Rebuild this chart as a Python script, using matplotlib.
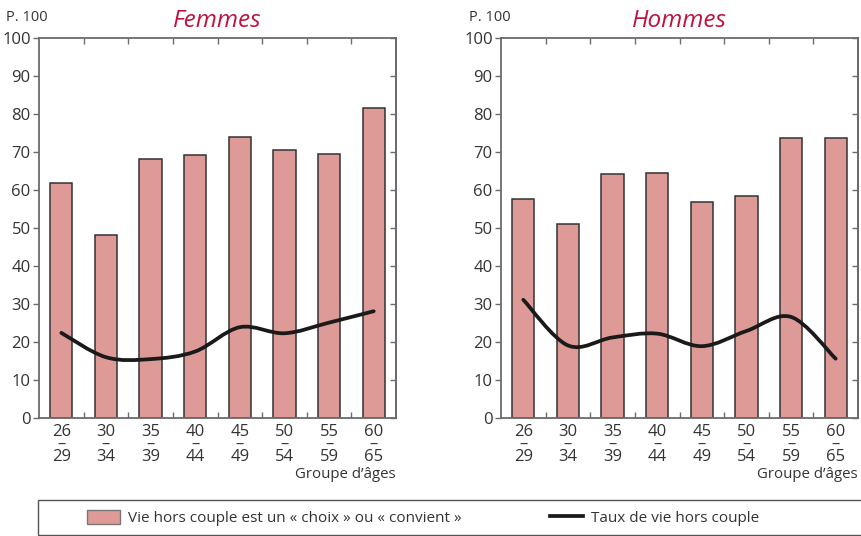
import numpy as np
import matplotlib
matplotlib.use("Agg")
import matplotlib.pyplot as plt
from matplotlib.path import Path
from matplotlib.patches import PathPatch, Patch, Rectangle
from matplotlib.lines import Line2D

# --------------------------------------------------------------------------
# data (in %)
# --------------------------------------------------------------------------
AGE_LABELS = ["26\n–\n29", "30\n–\n34", "35\n–\n39", "40\n–\n44",
              "45\n–\n49", "50\n–\n54", "55\n–\n59", "60\n–\n65"]
FEMMES_CHOIX = [61.8, 48.2, 68.1, 69.2, 73.9, 70.4, 69.6, 81.6]
FEMMES_TAUX = [22.4, 16.0, 15.5, 17.5, 23.9, 22.3, 25.1, 28.1]
HOMMES_CHOIX = [57.6, 51.0, 64.1, 64.6, 56.9, 58.4, 73.8, 73.8]
HOMMES_TAUX = [31.1, 19.1, 21.2, 22.2, 18.9, 22.9, 26.6, 15.6]
Y_TICKS = list(range(0, 101, 10))

LEG_BAR = "Vie hors couple est un « choix » ou « convient »"
LEG_LINE = "Taux de vie hors couple"

# styling -------------------------------------------------------------------
BAR_FILL, BAR_EDGE = "#dd9a97", "#333333"
LINE_C = "#1a1a1a"
SPINE_C = "#6b6b6b"
TXT = "#333333"
TITLE_C = "#c0123f"

plt.rcParams["font.family"] = ["Open Sans", "DejaVu Sans"]
plt.rcParams["text.color"] = TXT


def smooth_path(xs, ys):
    """Catmull-Rom curve through the points, as cubic bezier segments."""
    pts = np.column_stack([xs, ys]).astype(float)
    ext = np.vstack([pts[0], pts, pts[-1]])
    verts, codes = [pts[0]], [Path.MOVETO]
    for i in range(len(pts) - 1):
        p0, p1, p2, p3 = ext[i], ext[i + 1], ext[i + 2], ext[i + 3]
        verts += [p1 + (p2 - p0) / 6, p2 - (p3 - p1) / 6, p2]
        codes += [Path.CURVE4] * 3
    return Path(verts, codes)


def draw_panel(ax, choix, taux, title, p100_x):
    x = np.arange(len(AGE_LABELS))
    ax.bar(x, choix, width=0.5, color=BAR_FILL, edgecolor=BAR_EDGE,
           linewidth=1.1, zorder=2)
    ax.add_patch(PathPatch(smooth_path(x, taux), fill=False, edgecolor=LINE_C,
                           lw=2.7, zorder=3, capstyle="round"))
    ax.set_xlim(-0.5, len(x) - 0.5)
    ax.set_ylim(0, 100)

    for sp in ax.spines.values():
        sp.set_color(SPINE_C); sp.set_linewidth(1.3)

    # y: ticks out on the left, in on the right (both point left)
    ax.set_yticks(Y_TICKS)
    ax.tick_params(axis="y", direction="out", length=4, width=1,
                   color=SPINE_C, labelsize=12, labelcolor=TXT, pad=2)
    sec = ax.secondary_yaxis("right")
    sec.set_yticks(Y_TICKS)
    sec.tick_params(direction="in", length=4, width=1, color=SPINE_C,
                    labelright=False)
    sec.spines["right"].set_color(SPINE_C)
    sec.spines["right"].set_linewidth(1.3)

    # x: labels at centres, small inward ticks between groups
    ax.set_xticks(x)
    ax.set_xticklabels(AGE_LABELS, linespacing=0.74)
    ax.set_xticks(np.arange(0.5, len(x) - 1, 1), minor=True)
    ax.tick_params(axis="x", which="major", length=0, pad=4,
                   labelsize=12, labelcolor=TXT)
    ax.tick_params(axis="x", which="minor", direction="in", length=4,
                   width=1, color=SPINE_C, top=True, bottom=True)

    ax.set_title(title, fontsize=17.5, style="italic", color=TITLE_C, pad=8)
    ax.text(p100_x, 1.055, "P. 100", transform=ax.transAxes, fontsize=10.5,
            va="center", ha="left")
    ax.text(1.0, -0.15, "Groupe d’âges", transform=ax.transAxes,
            fontsize=10.8, ha="right", va="center")


fig = plt.figure(figsize=(8.61, 5.36), dpi=100)
ax_f = fig.add_axes([39/861, 1 - 418/536, 357/861, 380/536])
ax_h = fig.add_axes([501/861, 1 - 418/536, 357/861, 380/536])

draw_panel(ax_f, FEMMES_CHOIX, FEMMES_TAUX, "Femmes", -0.092)
draw_panel(ax_h, HOMMES_CHOIX, HOMMES_TAUX, "Hommes", -0.09)

# legend box across the bottom
fig.patches.append(Rectangle((38/861, 1/536), 1.0, 35/536, fill=False,
                             edgecolor="#555555", lw=1.0,
                             transform=fig.transFigure, figure=fig))
handles = [Patch(facecolor=BAR_FILL, edgecolor="#777777", lw=1.0),
           Line2D([], [], color=LINE_C, lw=2.7)]
fig.legend(handles, [LEG_BAR, LEG_LINE], loc="center left",
           bbox_to_anchor=(87/861, 1 - 518/536), ncol=2, frameon=False,
           fontsize=11, handlelength=2.15, handleheight=1.05,
           handletextpad=0.52, columnspacing=5.8, borderpad=0,
           borderaxespad=0)

fig.savefig("out.png", dpi=100)
